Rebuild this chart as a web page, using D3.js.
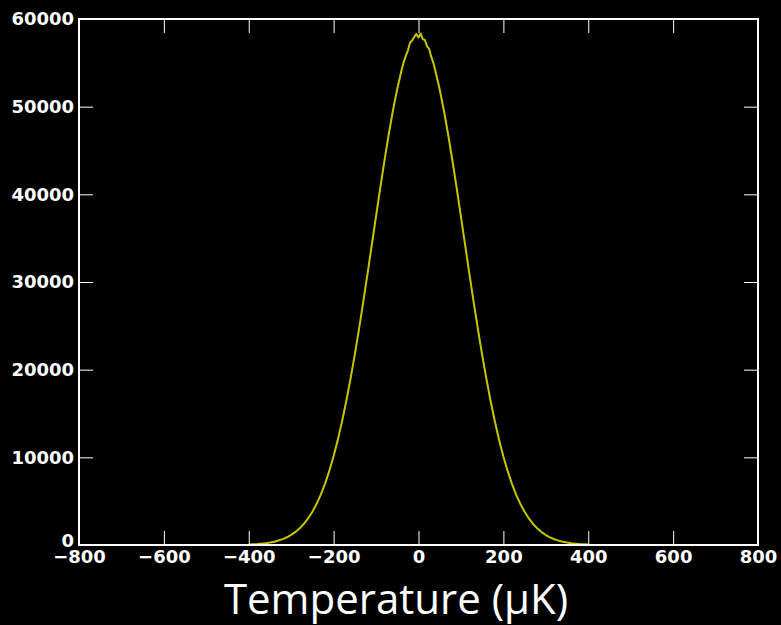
<!DOCTYPE html>
<html>
<head>
<meta charset="utf-8">
<script src="https://cdn.jsdelivr.net/npm/d3@7"></script>
<style>
  html, body { margin: 0; padding: 0; background: #000; }
  svg { display: block; }
  .tick-label { font-family: "DejaVu Sans", sans-serif; font-weight: bold; font-size: 18px; fill: #fff; }
</style>
</head>
<body>
<div id="chart"></div>
<script>
// bin centres (µK) and counts
const temps = [
  -400, -390, -380, -370, -360, -350, -340, -330, -320, -310,
  -300, -290, -280, -270, -260, -250, -240, -230, -220, -210,
  -200, -190, -180, -170, -160, -150, -140, -130, -120, -110,
  -100, -90, -80, -70, -60, -50,
  -40, -35, -30, -25, -20, -15, -10, -5, 0, 5, 10, 15, 20, 25, 30, 35, 40,
  50, 60, 70, 80, 90, 100,
  110, 120, 130, 140, 150, 160, 170, 180, 190, 200,
  210, 220, 230, 240, 250, 260, 270, 280, 290, 300,
  310, 320, 330, 340, 350, 360, 370, 380, 390, 400
]
const counts = [
  50, 75, 105, 150, 205, 280, 380, 510, 670, 880,
  1150, 1490, 1900, 2420, 3050, 3800, 4700, 5780, 7030, 8480,
  10150, 12020, 14130, 16450, 19000, 21750, 24680, 27780, 30990, 34250,
  37520, 40760, 43900, 46880, 49600, 52050,
  54150, 55050, 55800, 56400, 57300, 57550, 57950, 58300, 57900, 58350, 57700, 57600, 56900, 56600, 55700, 55000, 54050,
  51950, 49500, 46800, 43830, 40700, 37460,
  34180, 30900, 27700, 24620, 21690, 18950, 16400, 14080, 11980, 10100,
  8450, 7000, 5750, 4690, 3790, 3030, 2400, 1890, 1470, 1140,
  870, 660, 500, 370, 275, 200, 148, 106, 75, 53
]
const xTicks = [-800, -600, -400, -200, 0, 200, 400, 600, 800]
const yTicks = [0, 10000, 20000, 30000, 40000, 50000, 60000]
const xLabel = 'Temperature (µK)'

const W = 781
const H = 625
const plot = { left: 79, right: 758, top: 19, bottom: 545 }
const tickLen = 14

const svg = d3.select('#chart')
  .append('svg')
  .attr('width', W)
  .attr('height', H)

svg.append('rect')
  .attr('width', W)
  .attr('height', H)
  .attr('fill', '#000')

const x = d3.scaleLinear().domain([-800, 800]).range([plot.left, plot.right])
const y = d3.scaleLinear().domain([0, 60000]).range([plot.bottom, plot.top])

// the curve
const line = d3.line()
  .x(function(d, i) { return x(temps[i]) })
  .y(function(d) { return y(d) })

svg.append('path')
  .datum(counts)
  .attr('d', line)
  .attr('fill', 'none')
  .attr('stroke', '#c6c600')
  .attr('stroke-width', 2)
  .attr('stroke-linejoin', 'round')

// axes: ticks pointing inward, on all four sides
const bottomAxis = d3.axisBottom(x).tickValues(xTicks).tickSizeInner(-tickLen).tickSizeOuter(0)
  .tickFormat(function(d) { return d < 0 ? '\u2212' + Math.abs(d) : d })
const topAxis = d3.axisTop(x).tickValues(xTicks).tickSizeInner(-tickLen).tickSizeOuter(0).tickFormat('')
const leftAxis = d3.axisLeft(y).tickValues(yTicks).tickSizeInner(-tickLen).tickSizeOuter(0)
  .tickFormat(d3.format('d'))
const rightAxis = d3.axisRight(y).tickValues(yTicks).tickSizeInner(-tickLen).tickSizeOuter(0).tickFormat('')

const gb = svg.append('g').attr('transform', 'translate(0,' + plot.bottom + ')').call(bottomAxis)
const gt = svg.append('g').attr('transform', 'translate(0,' + plot.top + ')').call(topAxis)
const gl = svg.append('g').attr('transform', 'translate(' + plot.left + ',0)').call(leftAxis)
const gr = svg.append('g').attr('transform', 'translate(' + plot.right + ',0)').call(rightAxis)

;[gb, gt, gl, gr].forEach(function(g) {
  g.select('.domain').remove()
  g.selectAll('.tick line').attr('stroke', '#fff').attr('stroke-width', 1)
  g.selectAll('.tick text').attr('class', 'tick-label').attr('fill', '#fff')
})
gb.selectAll('.tick text').attr('y', 5).attr('dy', '0.71em')
gl.selectAll('.tick text').attr('x', -5)
// the zero label sits just above the corner, as in the original
gl.selectAll('.tick text').filter(function(d) { return d === 0 }).attr('dy', '0.1em')

// frame
svg.append('rect')
  .attr('x', plot.left)
  .attr('y', plot.top)
  .attr('width', plot.right - plot.left)
  .attr('height', plot.bottom - plot.top)
  .attr('fill', 'none')
  .attr('stroke', '#fff')
  .attr('stroke-width', 2)

// x axis title
svg.append('text')
  .attr('x', 396)
  .attr('y', 614)
  .attr('text-anchor', 'middle')
  .attr('font-family', '"Open Sans", sans-serif')
  .attr('font-size', 42)
  .attr('fill', '#fff')
  .text(xLabel)
</script>
</body>
</html>
